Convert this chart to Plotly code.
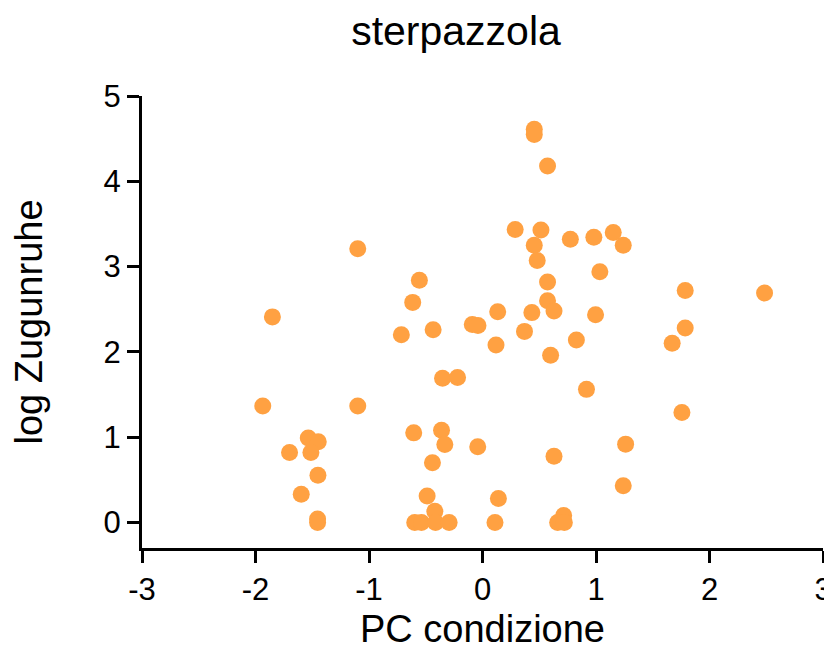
import plotly.graph_objects as go

# PC condizione (x) and log Zugunruhe (y)
pc_condizione = [
    -1.099, -0.556, -0.615, -1.851, -0.715, -0.435, -0.09, -0.04,
    -0.352, -0.22, -1.936, -1.099, -0.606, -0.361, -0.332, -0.042,
    -0.441, -1.535, -1.447, -1.70, -1.512, -1.45, -1.597, -1.453,
    -1.453, -0.488, -0.42, -0.597, -0.538, -0.414, -0.294,
    0.456, 0.456, 0.573, 0.288, 0.515, 0.456, 0.482, 0.774, 0.981,
    1.152, 1.24, 1.034, 0.573, 1.786, 2.485, 0.573, 0.630, 0.134,
    0.435, 0.996, 1.786, 0.37, 0.827, 1.671, 0.119, 0.60, 0.916,
    1.757, 1.261, 0.630, 1.24, 0.14, 0.11, 0.715, 0.662, 0.721,
]
log_zugunruhe = [
    3.21, 2.84, 2.58, 2.41, 2.20, 2.26, 2.32, 2.31,
    1.69, 1.70, 1.365, 1.365, 1.05, 1.08, 0.914, 0.886,
    0.70, 0.99, 0.945, 0.82, 0.82, 0.553, 0.33, 0.04,
    0.0, 0.31, 0.13, 0.0, 0.0, 0.0, 0.0,
    4.61, 4.55, 4.18, 3.435, 3.43, 3.25, 3.07, 3.32, 3.345,
    3.40, 3.25, 2.94, 2.82, 2.72, 2.69, 2.60, 2.48, 2.47,
    2.46, 2.435, 2.28, 2.24, 2.14, 2.10, 2.08, 1.96, 1.56,
    1.29, 0.918, 0.776, 0.43, 0.28, 0.0, 0.08, 0.0, 0.0,
]

x_ticks = [-3, -2, -1, 0, 1, 2, 3]
y_ticks = [0, 1, 2, 3, 4, 5]

FONT = "Liberation Sans, Arial, sans-serif"

# The page body has an 8px default margin, so the figure is drawn 8px smaller
W, H = 824, 642

fig = go.Figure(
    go.Scatter(
        x=pc_condizione,
        y=log_zugunruhe,
        mode="markers",
        marker=dict(size=17, color="#FFA142", line=dict(width=0)),
        showlegend=False,
    )
)

axis_common = dict(
    showline=True,
    linecolor="black",
    linewidth=3,
    ticks="outside",
    ticklen=12,
    tickwidth=3,
    tickcolor="black",
    showgrid=False,
    zeroline=False,
    tickfont=dict(family=FONT, size=31, color="black"),
)

fig.update_layout(
    width=W,
    height=H,
    paper_bgcolor="white",
    plot_bgcolor="white",
    margin=dict(l=134, r=9, t=88, b=102),
    font=dict(family=FONT, color="black"),
    title=dict(
        text="sterpazzola",
        font=dict(family=FONT, size=41, color="black"),
        x=448 / W,
        xref="container",
        xanchor="center",
        y=1 - 23 / H,
        yref="container",
        yanchor="middle",
    ),
    xaxis=dict(
        range=[-3, 3],
        tickvals=x_ticks,
        ticktext=[str(v) for v in x_ticks],
        title=dict(text="PC condizione", font=dict(family=FONT, size=38), standoff=12),
        automargin=False,
        **axis_common,
    ),
    yaxis=dict(
        range=[-0.3, 5],
        tickvals=y_ticks,
        ticktext=[str(v) for v in y_ticks],
        title=dict(text="log Zugunruhe", font=dict(family=FONT, size=38), standoff=52),
        automargin=False,
        **axis_common,
    ),
)

fig.write_html("out.html")
